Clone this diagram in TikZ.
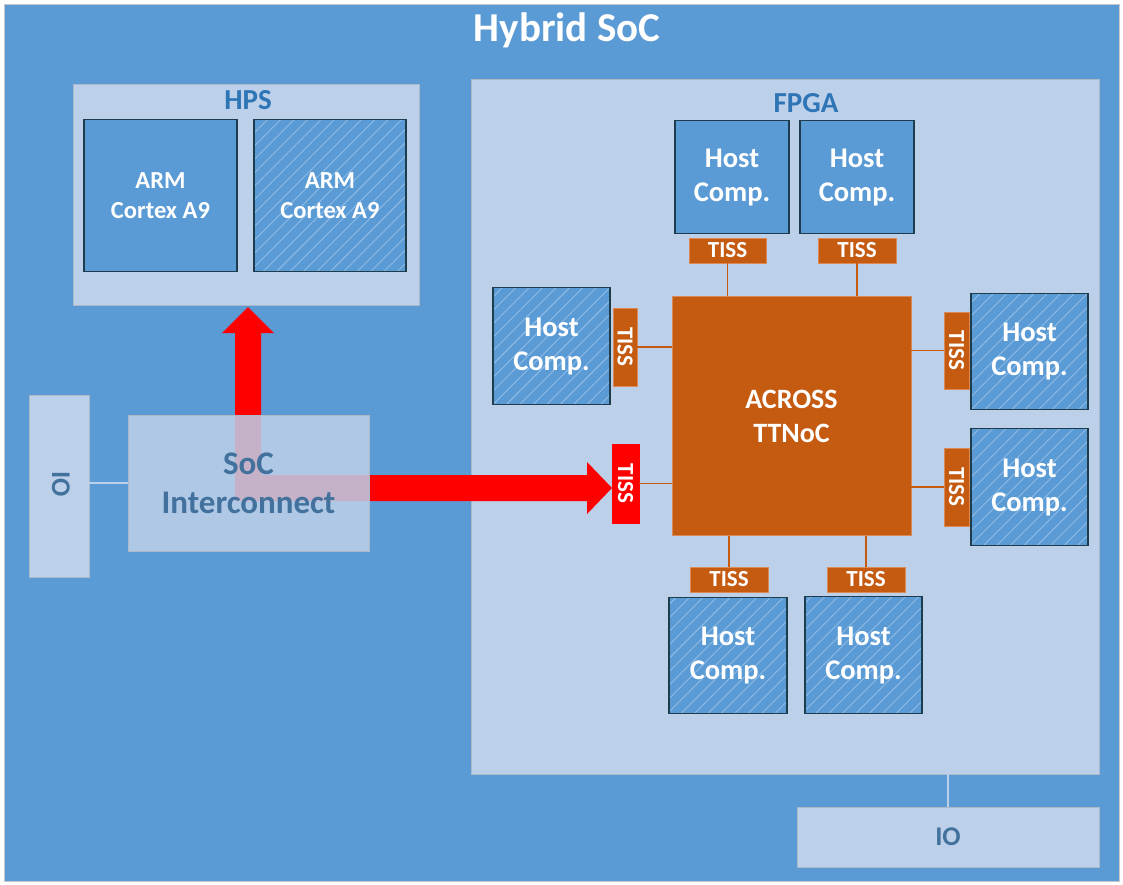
\documentclass[tikz,border=0pt]{standalone}
\usepackage{fontspec}
\setmainfont{Carlito}
\usetikzlibrary{patterns.meta}
\definecolor{socblue}{HTML}{5B9BD5}
\definecolor{panelfill}{HTML}{BDD0E9}
\definecolor{panelgray}{HTML}{AEB9C8}
\definecolor{hostborder}{HTML}{1E3D4C}
\definecolor{hatchcol}{HTML}{8FBBE5}
\definecolor{tissorange}{HTML}{C55A11}
\definecolor{tissedge}{HTML}{DC8A55}
\definecolor{labelblue}{HTML}{2E75B6}
\definecolor{darklabel}{HTML}{41719C}
\definecolor{outergray}{HTML}{C8C8C8}
\definecolor{arrowred}{HTML}{FF0000}
\tikzset{
  panel/.style={draw=panelgray, fill=panelfill, line width=0.8pt, inner sep=0pt, outer sep=0pt},
  hostbox/.style={draw=hostborder, fill=socblue, line width=1.5pt, text=white,
    font=\bfseries\fontsize{28.5}{34}\selectfont, align=center, inner sep=0pt, outer sep=0pt},
  hatched/.style={hostbox, preaction={fill=socblue}, pattern={Lines[angle=45,distance=9.5pt,line width=0.9pt]}, pattern color=hatchcol},
  armbox/.style={hostbox, font=\bfseries\fontsize{24.5}{30}\selectfont},
  tissbox/.style={fill=tissorange, draw=tissedge, line width=0.6pt, text=white,
    font=\bfseries\fontsize{23}{23}\selectfont, inner sep=0pt, outer sep=0pt},
  redtiss/.style={tissbox, fill=arrowred, draw=arrowred},
  conn/.style={draw=tissorange, line width=1.5pt},
  ioline/.style={draw=panelfill, line width=2pt},
  paneltitle/.style={text=labelblue, font=\bfseries\fontsize{29}{29}\selectfont},
  iotext/.style={text=darklabel, font=\bfseries\fontsize{27}{27}\selectfont},
}
\begin{document}
\begin{tikzpicture}[x=1pt,y=-1pt]
\useasboundingbox (0,0) rectangle (1123,884);
\fill[white] (0,0) rectangle (1123,884);
\draw[fill=socblue, draw=outergray, line width=1pt] (4,4) rectangle (1119,881);
\node[text=white, font=\bfseries\fontsize{41}{41}\selectfont] (title) at (567,30) {Hybrid SoC};

% HPS
\node[panel, minimum width=346pt, minimum height=221pt] (hps) at (246,194.5) {};
\node[paneltitle] (hpsl) at (248,100) {HPS};
\node[armbox, minimum width=153pt, minimum height=152pt] (arm1) at (160.5,195.5) {ARM\\Cortex A9};
\node[armbox, minimum width=152pt, minimum height=152pt, preaction={fill=socblue}, pattern={Lines[angle=45,distance=9.5pt,line width=0.9pt]}, pattern color=hatchcol] (arm2) at (330,195.5) {ARM\\Cortex A9};

% FPGA
\node[panel, minimum width=628pt, minimum height=695pt] (fpga) at (785,426.5) {};
\node[paneltitle] (fpgal) at (806,103) {FPGA};

% NoC
\node[fill=tissorange, draw=tissedge, line width=0.6pt, minimum width=239pt, minimum height=239pt,
  text=white, font=\bfseries\fontsize{28}{34}\selectfont, align=center, inner sep=0pt] (noc) at (791.5,416) {ACROSS\\TTNoC};

% top
\node[hostbox, minimum width=114pt, minimum height=113pt] (ht1) at (732,177) {Host\\Comp.};
\node[hostbox, minimum width=114pt, minimum height=113pt] (ht2) at (857,177) {Host\\Comp.};
\node[tissbox, minimum width=77pt, minimum height=25pt] (tt1) at (727.5,250.5) {TISS};
\node[tissbox, minimum width=78pt, minimum height=25pt] (tt2) at (857,250.5) {TISS};
\draw[conn] (tt1.south) -- (tt1.south |- noc.north);
\draw[conn] (tt2.south) -- (tt2.south |- noc.north);

% left
\node[hatched, minimum width=117pt, minimum height=117pt] (hl) at (551.5,346) {Host\\Comp.};
\node[tissbox, rotate=-90, minimum width=78pt, minimum height=24pt] (tl) at (625,347) {TISS};
\draw[conn] (tl.north) -- (tl.north -| noc.west);

% right
\node[hatched, minimum width=117pt, minimum height=116pt] (hr1) at (1029.5,351.5) {Host\\Comp.};
\node[hatched, minimum width=117pt, minimum height=117pt] (hr2) at (1029.5,487) {Host\\Comp.};
\node[tissbox, rotate=-90, minimum width=77pt, minimum height=25pt] (tr1) at (956.5,350.5) {TISS};
\node[tissbox, rotate=-90, minimum width=78pt, minimum height=25pt] (tr2) at (956.5,487) {TISS};
\draw[conn] (tr1.south) -- (tr1.south -| noc.east);
\draw[conn] (tr2.south) -- (tr2.south -| noc.east);

% bottom
\node[hatched, minimum width=118pt, minimum height=116pt] (hb1) at (728,655.5) {Host\\Comp.};
\node[hatched, minimum width=117pt, minimum height=117pt] (hb2) at (863.5,655) {Host\\Comp.};
\node[tissbox, minimum width=78pt, minimum height=25pt] (tb1) at (729,579.5) {TISS};
\node[tissbox, minimum width=78pt, minimum height=25pt] (tb2) at (866,579.5) {TISS};
\draw[conn] (tb1.north) -- (tb1.north |- noc.south);
\draw[conn] (tb2.north) -- (tb2.north |- noc.south);

% red arrows
\fill[arrowred] (235,501) -- (235,333) -- (222,333) -- (248,307) -- (274,333) -- (261,333)
  -- (261,475) -- (587,475) -- (587,462) -- (612,488) -- (587,514) -- (587,501) -- cycle;

% red TISS
\node[redtiss, rotate=-90, minimum width=79pt, minimum height=27pt] (tred) at (625.5,483.5) {TISS};
\draw[conn] (tred.north) -- (tred.north -| noc.west);

% Interconnect
\node[draw=panelgray, fill=panelfill, fill opacity=0.86, text opacity=1, line width=0.8pt,
  minimum width=241pt, minimum height=136pt, inner sep=0pt, text=darklabel, align=center,
  font=\bfseries\fontsize{33}{39}\selectfont] (ic) at (248.5,483) {SoC\\Interconnect};

% IO left
\node[panel, minimum width=60pt, minimum height=182pt] (iol) at (59,486) {};
\node[rotate=-90, iotext] (iolt) at (61,484) {IO};
\draw[ioline] (iol.east |- ic.west) -- (ic.west);

% IO bottom
\node[panel, minimum width=302pt, minimum height=60pt, iotext] (iob) at (948,837) {IO};
\draw[ioline] (iob.north) -- (iob.north |- fpga.south);
\end{tikzpicture}
\end{document}
